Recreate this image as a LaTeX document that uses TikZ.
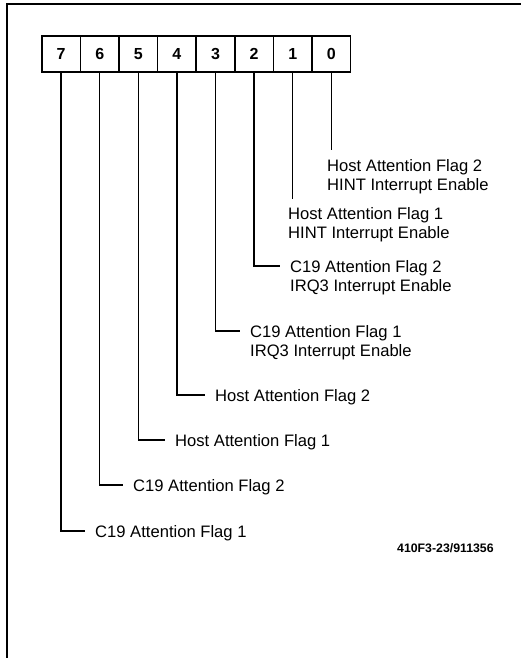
\documentclass[tikz,border=0pt]{standalone}
\usepackage{fontspec}
\setmainfont{Liberation Sans}
\begin{document}
\begin{tikzpicture}[x=1pt,y=1pt,
  cell/.style={draw,line width=1.6pt,minimum width=38.6pt,minimum height=36pt,inner sep=0pt,anchor=north west,font=\bfseries\fontsize{16}{19}\selectfont},
  lbl/.style={anchor=north west,inner sep=0pt,align=left,font=\fontsize{16.6}{19.5}\selectfont},
  conn/.style={line width=1.4pt}]
\useasboundingbox (0,0) rectangle (521,-658);
\draw[line width=2pt] (7,-658) -- (7,-4) -- (521,-4);
\foreach \b [count=\i from 0] in {7,6,5,4,3,2,1,0}
  \node[cell] (c\b) at ({41+\i*38.6},-35) {\b};
\node[lbl] (t0) at (327,-159) {Host Attention Flag 2\\HINT Interrupt Enable};
\node[lbl] (t1) at (288,-207) {Host Attention Flag 1\\HINT Interrupt Enable};
\node[lbl] (t2) at (290,-260) {C19 Attention Flag 2\\IRQ3 Interrupt Enable};
\node[lbl] (t3) at (250,-325) {C19 Attention Flag 1\\IRQ3 Interrupt Enable};
\node[lbl] (t4) at (215,-389) {Host Attention Flag 2};
\node[lbl] (t5) at (175,-434) {Host Attention Flag 1};
\node[lbl] (t6) at (133,-479) {C19 Attention Flag 2};
\node[lbl] (t7) at (95,-525) {C19 Attention Flag 1};
\node[anchor=west,inner sep=0pt,font=\bfseries\fontsize{12.3}{14}\selectfont] (ref) at (397,-548) {410F3-23/911356};
\coordinate (e0) at (c0.south |- 0,-150);
\coordinate (e1) at (c1.south |- 0,-199);
\draw[conn] (c0.south) -- (e0);
\draw[conn] (c1.south) -- (e1);
\foreach \b in {2,...,7}
  \draw[conn] (c\b.south) |- ([xshift=-10pt,yshift=-6pt]t\b.north west);
\end{tikzpicture}
\end{document}
